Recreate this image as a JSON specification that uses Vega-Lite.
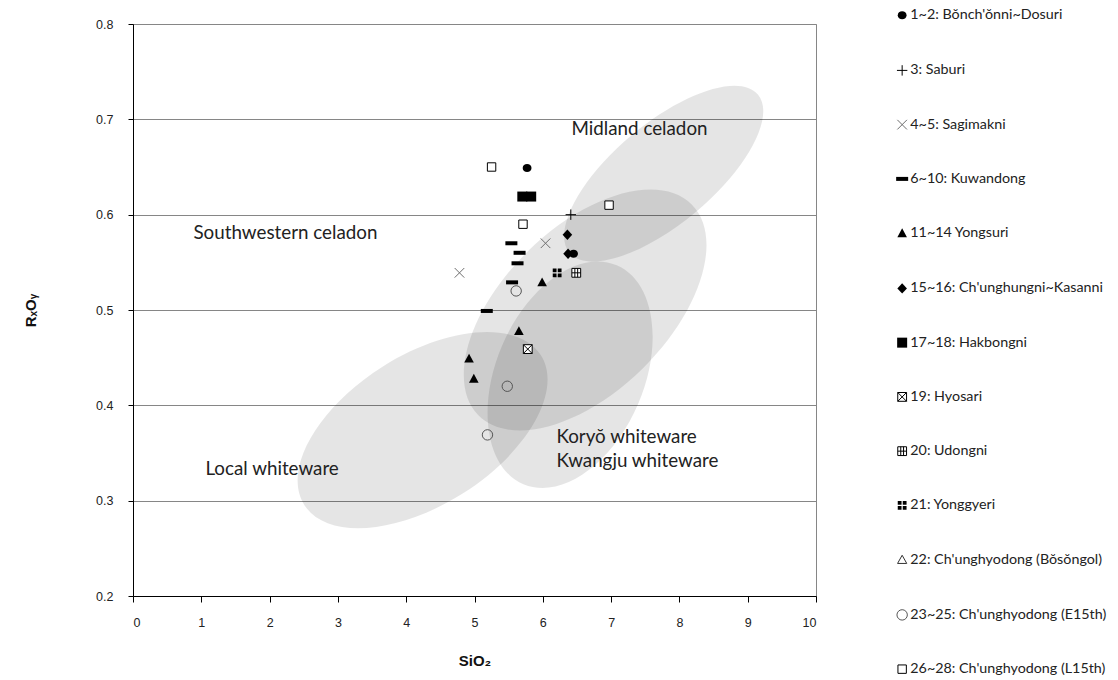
{
  "$schema": "https://vega.github.io/schema/vega-lite/v6.json",
  "width": 683,
  "height": 572,
  "autosize": {"type": "none"},
  "padding": {"left": 133, "top": 24, "right": 302, "bottom": 84},
  "background": "white",
  "config": {
    "view": {"stroke": "#868686", "strokeWidth": 1},
    "axis": {
      "domainColor": "#000000",
      "tickColor": "#000000",
      "labelFont": "Liberation Sans",
      "labelFontSize": 12.5,
      "labelColor": "#222222",
      "titleFont": "Liberation Sans",
      "titleFontSize": 15,
      "titleFontWeight": "bold",
      "titleColor": "#111111",
      "gridColor": "#868686",
      "gridOpacity": 1
    },
    "legend": {
      "orient": "none",
      "legendX": 762,
      "legendY": -16,
      "rowPadding": 39.25,
      "padding": 0,
      "labelFont": "Lato",
      "labelFontSize": 14.3,
      "labelColor": "#222222",
      "labelLimit": 400,
      "labelOffset": 1,
      "symbolSize": 64,
      "symbolStrokeWidth": 1,
      "symbolOpacity": 1
    }
  },
  "datasets": {
    "samples": [
      {"site": "1~2: Bŏnch'ŏnni~Dosuri", "x": 5.77, "y": 0.649},
      {"site": "1~2: Bŏnch'ŏnni~Dosuri", "x": 6.45, "y": 0.559},
      {"site": "3: Saburi", "x": 6.41, "y": 0.600},
      {"site": "4~5: Sagimakni", "x": 4.78, "y": 0.539},
      {"site": "4~5: Sagimakni", "x": 6.04, "y": 0.570},
      {"site": "6~10: Kuwandong", "x": 5.54, "y": 0.570},
      {"site": "6~10: Kuwandong", "x": 5.66, "y": 0.560},
      {"site": "6~10: Kuwandong", "x": 5.63, "y": 0.549},
      {"site": "6~10: Kuwandong", "x": 5.55, "y": 0.529},
      {"site": "6~10: Kuwandong", "x": 5.18, "y": 0.499},
      {"site": "11~14 Yongsuri", "x": 5.99, "y": 0.529},
      {"site": "11~14 Yongsuri", "x": 5.65, "y": 0.478},
      {"site": "11~14 Yongsuri", "x": 4.92, "y": 0.449},
      {"site": "11~14 Yongsuri", "x": 4.99, "y": 0.428},
      {"site": "15~16: Ch'unghungni~Kasanni", "x": 6.36, "y": 0.579},
      {"site": "15~16: Ch'unghungni~Kasanni", "x": 6.37, "y": 0.559},
      {"site": "17~18: Hakbongni", "x": 5.70, "y": 0.619},
      {"site": "17~18: Hakbongni", "x": 5.83, "y": 0.619},
      {"site": "19: Hyosari", "x": 5.78, "y": 0.459},
      {"site": "20: Udongni", "x": 6.49, "y": 0.539},
      {"site": "21: Yonggyeri", "x": 6.21, "y": 0.539},
      {"site": "23~25: Ch'unghyodong  (E15th)", "x": 5.61, "y": 0.520},
      {"site": "23~25: Ch'unghyodong  (E15th)", "x": 5.48, "y": 0.420},
      {"site": "23~25: Ch'unghyodong  (E15th)", "x": 5.19, "y": 0.369},
      {"site": "26~28: Ch'unghyodong  (L15th)", "x": 5.25, "y": 0.650},
      {"site": "26~28: Ch'unghyodong  (L15th)", "x": 5.71, "y": 0.590},
      {"site": "26~28: Ch'unghyodong  (L15th)", "x": 6.97, "y": 0.610}
    ],
    "labels": [
      {"text": "Midland celadon", "x": 6.42, "y": 0.690},
      {"text": "Southwestern celadon", "x": 0.885, "y": 0.581},
      {"text": "Local whiteware", "x": 1.06, "y": 0.333},
      {"text": "Koryŏ whiteware", "x": 6.20, "y": 0.367},
      {"text": "Kwangju whiteware", "x": 6.20, "y": 0.342}
    ],
    "midland": [{"region": "Midland celadon", "x": 7.77, "y": 0.643}],
    "southwestern": [{"region": "Southwestern celadon", "x": 6.62, "y": 0.500}],
    "koryo": [{"region": "Koryŏ / Kwangju whiteware", "x": 6.40, "y": 0.432}],
    "local": [{"region": "Local whiteware", "x": 4.24, "y": 0.374}]
  },
  "encoding": {
    "x": {
      "field": "x",
      "type": "quantitative",
      "scale": {"domain": [0, 10], "nice": false, "zero": false},
      "axis": {
        "title": "SiO₂",
        "values": [0, 1, 2, 3, 4, 5, 6, 7, 8, 9, 10],
        "grid": false,
        "tickSize": 6,
        "labelPadding": 14,
        "titlePadding": 25
      }
    },
    "y": {
      "field": "y",
      "type": "quantitative",
      "scale": {"domain": [0.2, 0.8], "nice": false, "zero": false},
      "axis": {
        "title": "RₓOᵧ",
        "values": [0.2, 0.3, 0.4, 0.5, 0.6, 0.7, 0.8],
        "format": ".1f",
        "grid": true,
        "tickSize": 5,
        "labelPadding": 15,
        "titlePadding": 57
      }
    }
  },
  "layer": [
    {
      "data": {"name": "southwestern"},
      "mark": {"type": "point", "shape": "M1,0C1,0.3021 0.5523,0.547 0,0.547C-0.5523,0.547 -1,0.3021 -1,0C-1,-0.3021 -0.5523,-0.547 0,-0.547C0.5523,-0.547 1,-0.3021 1,0Z", "size": 90000, "angle": 315.4, "filled": true, "fill": "#000000", "fillOpacity": 0.1, "strokeWidth": 0, "opacity": 1},
      "encoding": {}
    },
    {
      "data": {"name": "midland"},
      "mark": {"type": "point", "shape": "M1,0C1,0.2245 0.5523,0.4065 0,0.4065C-0.5523,0.4065 -1,0.2245 -1,0C-1,-0.2245 -0.5523,-0.4065 0,-0.4065C0.5523,-0.4065 1,-0.2245 1,0Z", "size": 60516, "angle": 320, "filled": true, "fill": "#000000", "fillOpacity": 0.1, "strokeWidth": 0, "opacity": 1},
      "encoding": {}
    },
    {
      "data": {"name": "koryo"},
      "mark": {"type": "point", "shape": "M1,0C1,0.3435 0.5523,0.622 0,0.622C-0.5523,0.622 -1,0.3435 -1,0C-1,-0.3435 -0.5523,-0.622 0,-0.622C0.5523,-0.622 1,-0.3435 1,0Z", "size": 56644, "angle": 293.1, "filled": true, "fill": "#000000", "fillOpacity": 0.1, "strokeWidth": 0, "opacity": 1},
      "encoding": {}
    },
    {
      "data": {"name": "local"},
      "mark": {"type": "point", "shape": "M1,0C1,0.296 0.5523,0.536 0,0.536C-0.5523,0.536 -1,0.296 -1,0C-1,-0.296 -0.5523,-0.536 0,-0.536C0.5523,-0.536 1,-0.296 1,0Z", "size": 78400, "angle": 327.7, "filled": true, "fill": "#000000", "fillOpacity": 0.1, "strokeWidth": 0, "opacity": 1},
      "encoding": {}
    },
    {
      "data": {"name": "labels"},
      "mark": {"type": "text", "align": "left", "baseline": "middle", "font": "Lato", "fontSize": 18.8, "color": "#222222"},
      "encoding": {"text": {"field": "text"}}
    },
    {
      "data": {"name": "samples"},
      "mark": {"type": "point", "size": 64, "strokeWidth": 1, "opacity": 1},
      "encoding": {
        "shape": {
          "field": "site",
          "type": "nominal",
          "scale": {
            "domain": ["1~2: Bŏnch'ŏnni~Dosuri", "3: Saburi", "4~5: Sagimakni", "6~10: Kuwandong", "11~14 Yongsuri", "15~16: Ch'unghungni~Kasanni", "17~18: Hakbongni", "19: Hyosari", "20: Udongni", "21: Yonggyeri", "22: Ch'unghyodong  (Bŏsŏngol)", "23~25: Ch'unghyodong  (E15th)", "26~28: Ch'unghyodong  (L15th)"],
            "range": [
              "M1.1,0C1.1,0.6075 0.6075,1 0,1C-0.6075,1 -1.1,0.6075 -1.1,0C-1.1,-0.6075 -0.6075,-1 0,-1C0.6075,-1 1.1,-0.6075 1.1,0Z",
              "M-1.3,0H1.3M0,-1.3V1.3",
              "M-1.2,-1.2L1.2,1.2M-1.2,1.2L1.2,-1.2",
              "M-1.5,-0.5H1.5V0.5H-1.5Z",
              "M0,-1.2L1.2,1L-1.2,1Z",
              "M0,-1.3L1.2,0L0,1.3L-1.2,0Z",
              "M-1.25,-1.25H1.25V1.25H-1.25Z",
              "M-1.1,-1.1H1.1V1.1H-1.1Z M-1.1,-1.1L1.1,1.1 M1.1,-1.1L-1.1,1.1",
              "M-1.1,-1.1H1.1V1.1H-1.1Z M-0.35,-1.1V1.1 M0.35,-1.1V1.1 M-1.1,0H1.1",
              "M-1.1,-1.1H-0.15V-0.15H-1.1Z M0.15,-1.1H1.1V-0.15H0.15Z M-1.1,0.15H-0.15V1.1H-1.1Z M0.15,0.15H1.1V1.1H0.15Z",
              "M0,-1.1L1.15,0.95L-1.15,0.95Z",
              "M1.3,0C1.3,0.718 0.718,1.3 0,1.3C-0.718,1.3 -1.3,0.718 -1.3,0C-1.3,-0.718 -0.718,-1.3 0,-1.3C0.718,-1.3 1.3,-0.718 1.3,0Z",
              "M-1.05,-1.05H1.05V1.05H-1.05Z"
            ]
          },
          "legend": {"title": null}
        },
        "fill": {
          "field": "site",
          "type": "nominal",
          "scale": {
            "domain": ["1~2: Bŏnch'ŏnni~Dosuri", "3: Saburi", "4~5: Sagimakni", "6~10: Kuwandong", "11~14 Yongsuri", "15~16: Ch'unghungni~Kasanni", "17~18: Hakbongni", "19: Hyosari", "20: Udongni", "21: Yonggyeri", "22: Ch'unghyodong  (Bŏsŏngol)", "23~25: Ch'unghyodong  (E15th)", "26~28: Ch'unghyodong  (L15th)"],
            "range": ["#000000", "transparent", "transparent", "#000000", "#000000", "#000000", "#000000", "#ffffff", "#ffffff", "#000000", "transparent", "transparent", "#ffffff"]
          },
          "legend": {"title": null}
        },
        "stroke": {
          "field": "site",
          "type": "nominal",
          "scale": {
            "domain": ["1~2: Bŏnch'ŏnni~Dosuri", "3: Saburi", "4~5: Sagimakni", "6~10: Kuwandong", "11~14 Yongsuri", "15~16: Ch'unghungni~Kasanni", "17~18: Hakbongni", "19: Hyosari", "20: Udongni", "21: Yonggyeri", "22: Ch'unghyodong  (Bŏsŏngol)", "23~25: Ch'unghyodong  (E15th)", "26~28: Ch'unghyodong  (L15th)"],
            "range": ["transparent", "#000000", "#6e6e6e", "transparent", "transparent", "transparent", "transparent", "#000000", "#000000", "transparent", "#333333", "#555555", "#000000"]
          },
          "legend": {"title": null}
        }
      }
    }
  ]
}
